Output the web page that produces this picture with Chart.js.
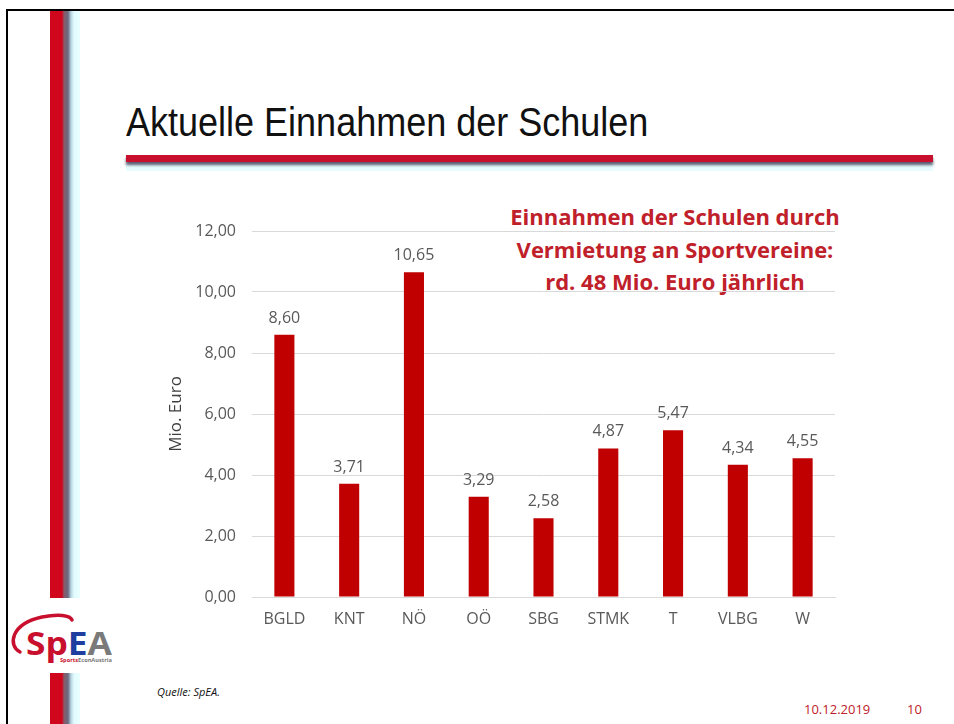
<!DOCTYPE html>
<html>
<head>
<meta charset="utf-8">
<script src="https://cdn.jsdelivr.net/npm/chart.js@4"></script>
<style>
  body { margin: 0; background: #fff; }
  #slide { position: relative; width: 954px; height: 724px; overflow: hidden; background: #fff; font-family: "Open Sans", sans-serif; }
  .frameTop { position: absolute; left: 7px; top: 9px; width: 947px; height: 2px; background: #000; }
  .frameLeft { position: absolute; left: 6px; top: 9px; width: 2px; height: 715px; background: #000; }
  .sidebar { position: absolute; left: 50px; width: 30px;
    background: linear-gradient(to right, #d0061c 0, #d0061c 12px, #8a5a6a 14px, #6a6a80 18px, #b8d4e0 21px, #e2fbff 24px, #eaffff 30px); }
  .title { position: absolute; left: 126px; top: 100px; font-family: "Liberation Sans", sans-serif; font-size: 40px; color: #111; white-space: nowrap;
    transform: scaleX(0.9); transform-origin: left top; }
  .underline { position: absolute; left: 126px; top: 155px; width: 807px; height: 7px; background: #c8102e; box-shadow: 0 3px 3px #5a5a70; }
  .underglow { position: absolute; left: 126px; top: 163px; width: 807px; height: 8px; background: #e6fcff; }
  .note { position: absolute; left: 475px; top: 200px; width: 400px; text-align: center; color: #c0202a; font-weight: bold; font-size: 22px; line-height: 32.5px; white-space: nowrap; }
  #chartBox { position: absolute; left: 150px; top: 200px; width: 700px; height: 440px; }
  .quelle { position: absolute; left: 157px; top: 684px; font-style: italic; font-size: 11px; color: #111; }
  .date { position: absolute; left: 804px; top: 700px; font-size: 13px; color: #c0202a; }
  .page { position: absolute; left: 907px; top: 700px; font-size: 13px; color: #c0202a; }
  .logo { position: absolute; left: 8px; top: 608px; width: 110px; height: 60px; }
</style>
</head>
<body>
<div id="slide">
  <div class="frameTop"></div>
  <div class="frameLeft"></div>
  <div class="sidebar" style="top:11px;height:587px"></div>
  <div class="sidebar" style="top:673px;height:51px"></div>
  <div class="title">Aktuelle Einnahmen der Schulen</div>
  <div class="underglow"></div>
  <div class="underline"></div>
  <div class="note">Einnahmen der Schulen durch<br>Vermietung an Sportvereine:<br>rd. 48 Mio. Euro jährlich</div>
  <div id="chartBox"><canvas id="chart" width="700" height="440"></canvas></div>
  <svg class="logo" viewBox="0 0 110 60">
    <path d="M 12 44 C 0 38, 2 16, 34 9 C 50 6, 62 7, 64 12" fill="none" stroke="#c8102e" stroke-width="3.5" stroke-linecap="round"/>
    <text x="18" y="47" font-family="Open Sans, sans-serif" font-weight="bold" font-size="32" textLength="86" lengthAdjust="spacingAndGlyphs"><tspan fill="#c8102e">Sp</tspan><tspan fill="#1f3fa0">E</tspan><tspan fill="#7a7a7a">A</tspan></text>
    <text x="52" y="54" font-family="Open Sans, sans-serif" font-size="5.5" font-weight="bold" fill="#c8102e" textLength="52" lengthAdjust="spacingAndGlyphs">Sports<tspan fill="#777">EconAustria</tspan></text>
  </svg>
  <div class="quelle">Quelle: SpEA.</div>
  <div class="date">10.12.2019</div>
  <div class="page">10</div>
</div>
<script>
let regions = ['BGLD', 'KNT', 'NÖ', 'OÖ', 'SBG', 'STMK', 'T', 'VLBG', 'W'];
let einnahmen = [8.60, 3.71, 10.65, 3.29, 2.58, 4.87, 5.47, 4.34, 4.55];
let yMin = 0;
let yMax = 12;
let yStep = 2;

let barColor = '#c00000';
let textGray = '#595959';
let gridGray = '#d9d9d9';

function fmtComma(v) {
    return Number(v).toFixed(2).replace('.', ',');
}

// draws the value above each bar
let valueLabels = {
    id: 'valueLabels',
    afterDatasetsDraw(chart) {
        let ctx = chart.ctx;
        let meta = chart.getDatasetMeta(0);
        ctx.save();
        ctx.font = '16px "Open Sans"';
        ctx.fillStyle = textGray;
        ctx.textAlign = 'center';
        ctx.textBaseline = 'alphabetic';
        meta.data.forEach((bar, i) => {
            ctx.fillText(fmtComma(einnahmen[i]), bar.x, bar.y - 12);
        });
        ctx.restore();
    }
};

let ctx = document.getElementById('chart').getContext('2d');
let chart = new Chart(ctx, {
    type: 'bar',
    data: {
        labels: regions,
        datasets: [{
            label: 'Mio. Euro',
            data: einnahmen,
            backgroundColor: barColor,
            categoryPercentage: 1.0,
            barPercentage: 0.31
        }]
    },
    options: {
        responsive: false,
        animation: false,
        layout: { padding: { left: 0, right: 15, top: 31, bottom: 0 } },
        plugins: { legend: { display: false }, tooltip: { enabled: false } },
        scales: {
            y: {
                min: yMin,
                max: yMax,
                ticks: {
                    stepSize: yStep,
                    padding: 16,
                    color: textGray,
                    font: { family: 'Open Sans', size: 16 },
                    callback: (v) => fmtComma(v)
                },
                grid: { color: gridGray, drawTicks: false },
                border: { display: false },
                title: {
                    display: true,
                    text: 'Mio. Euro',
                    color: '#404040',
                    font: { family: 'Open Sans', size: 17 },
                    padding: { top: 16, bottom: 0 }
                },
                afterFit: (scale) => { scale.width = 102; }
            },
            x: {
                grid: { display: false },
                border: { color: gridGray },
                ticks: {
                    padding: 5,
                    color: textGray,
                    font: { family: 'Open Sans', size: 16 }
                },
                afterFit: (scale) => { scale.height = 43; }
            }
        }
    },
    plugins: [valueLabels]
});
</script>
</body>
</html>
